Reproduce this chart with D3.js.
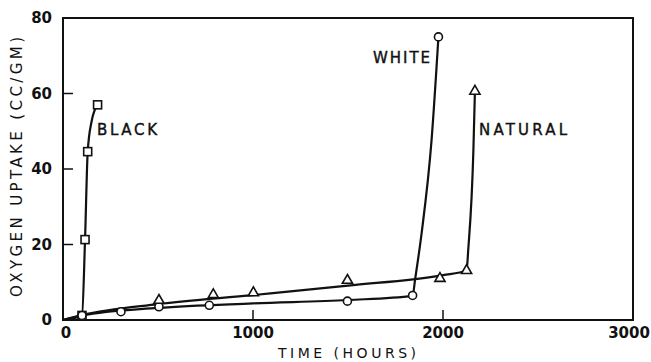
<!DOCTYPE html>
<html>
<head>
<meta charset="utf-8">
<script src="https://d3js.org/d3.v7.min.js"></script>
<style>
  body { margin: 0; background: white; }
  text { font-family: "DejaVu Sans", sans-serif; fill: #111; }
</style>
</head>
<body>
<div id="chart"></div>
<script>
// data (hours, cc/gm)
var blackPts   = [[100, 1.2], [116, 21.3], [130, 44.6], [182, 57]];
var whitePts   = [[100, 1.2], [305, 2.2], [505, 3.5], [770, 3.9], [1497, 5], [1840, 6.5], [1976, 75]];
var naturalPts = [[505, 5.2], [791, 6.7], [1002, 7.2], [1497, 10.5], [1984, 11], [2124, 13.1], [2168, 60.6]];

// hand drawn fit curves
var blackFit   = [[0, 0], [100, 1.2], [116, 21.3], [130, 44.6], [150, 52.5], [182, 57]];
var whiteFit   = [[0, 0], [100, 1.2], [500, 3.2], [1000, 4.4], [1500, 5.3], [1840, 6.4], [1853, 10.7], [1888, 23.2], [1940, 47.8], [1976, 75]];
var naturalFit = [[0, 0], [100, 1.3], [500, 4.2], [1000, 6.6], [1500, 9.1], [2000, 11.9], [2124, 13.1], [2133, 18.7], [2160, 45], [2168, 60.6]];

var xTicks = [0, 1000, 2000, 3000];
var yTicks = [0, 20, 40, 60, 80];

var labels = [
  {text: "BLACK", x: 97, y: 135, w: 60},
  {text: "WHITE", x: 373, y: 63, w: 57},
  {text: "NATURAL", x: 479, y: 135, w: 88}
];

var width = 651, height = 362;
var mLeft = 63, mRight = 633, mTop = 18, mBottom = 320;

var svg = d3.select("#chart").append("svg")
  .attr("width", width)
  .attr("height", height);

var x = d3.scaleLinear().domain([0, 3000]).range([mLeft, mRight]);
var y = d3.scaleLinear().domain([0, 80]).range([mBottom, mTop]);

// frame
svg.append("rect")
  .attr("x", mLeft).attr("y", mTop)
  .attr("width", mRight - mLeft).attr("height", mBottom - mTop)
  .style("fill", "none").style("stroke", "#111").style("stroke-width", 2);

// inward ticks
svg.selectAll(".yt").data(yTicks.filter(function(d) { return d > 0 && d < 80; }))
  .enter().append("line")
  .attr("x1", mLeft).attr("x2", mLeft + 10)
  .attr("y1", function(d) { return y(d); }).attr("y2", function(d) { return y(d); })
  .style("stroke", "#111").style("stroke-width", 1.5);

svg.selectAll(".xt").data(xTicks.filter(function(d) { return d > 0 && d < 3000; }))
  .enter().append("line")
  .attr("x1", function(d) { return x(d); }).attr("x2", function(d) { return x(d); })
  .attr("y1", mBottom).attr("y2", mBottom - 10)
  .style("stroke", "#111").style("stroke-width", 1.5);

// tick labels
svg.selectAll(".yl").data(yTicks).enter().append("text")
  .attr("x", mLeft - 11)
  .attr("y", function(d) { return y(d) + 5; })
  .attr("text-anchor", "end")
  .style("font-size", "15px").style("font-weight", "bold")
  .text(function(d) { return d; });

svg.selectAll(".xl").data(xTicks).enter().append("text")
  .attr("x", function(d) { return d == 0 ? x(d) + 3 : d == 3000 ? x(d) - 4 : x(d); })
  .attr("y", mBottom + 18)
  .attr("text-anchor", "middle")
  .style("font-size", "15px").style("font-weight", "bold")
  .text(function(d) { return d; });

// axis titles
svg.append("text")
  .attr("x", 347).attr("y", 358)
  .attr("text-anchor", "middle")
  .attr("textLength", 138).attr("lengthAdjust", "spacing")
  .style("font-size", "14px")
  .text("TIME (HOURS)");

svg.append("text")
  .attr("transform", "translate(22,167) rotate(-90)")
  .attr("text-anchor", "middle")
  .attr("textLength", 260).attr("lengthAdjust", "spacing")
  .style("font-size", "15px")
  .text("OXYGEN UPTAKE (CC/GM)");

// curves
var lineX = d3.line()
  .x(function(d) { return x(d[0]); })
  .y(function(d) { return y(d[1]); })
  .curve(d3.curveMonotoneX);

[blackFit, whiteFit, naturalFit].forEach(function(fit) {
  svg.append("path")
    .attr("d", lineX(fit))
    .style("fill", "none").style("stroke", "#111").style("stroke-width", 2.2);
});

// markers
svg.selectAll(".sq").data(blackPts).enter().append("rect")
  .attr("x", function(d) { return x(d[0]) - 4; })
  .attr("y", function(d) { return y(d[1]) - 4; })
  .attr("width", 8).attr("height", 8)
  .style("fill", "white").style("stroke", "#111").style("stroke-width", 1.6);

svg.selectAll(".ci").data(whitePts).enter().append("circle")
  .attr("cx", function(d) { return x(d[0]); })
  .attr("cy", function(d) { return y(d[1]); })
  .attr("r", 4)
  .style("fill", "white").style("stroke", "#111").style("stroke-width", 1.6);

var tri = d3.symbol().type(d3.symbolTriangle).size(45);
svg.selectAll(".tr").data(naturalPts).enter().append("path")
  .attr("transform", function(d) { return "translate(" + x(d[0]) + "," + y(d[1]) + ")"; })
  .attr("d", tri)
  .style("fill", "white").style("stroke", "#111").style("stroke-width", 1.6);

// series labels
svg.selectAll(".lab").data(labels).enter().append("text")
  .attr("x", function(d) { return d.x; })
  .attr("y", function(d) { return d.y; })
  .attr("textLength", function(d) { return d.w; }).attr("lengthAdjust", "spacing")
  .style("font-size", "15px")
  .style("stroke", "#111").style("stroke-width", 0.4)
  .text(function(d) { return d.text; });
</script>
</body>
</html>
